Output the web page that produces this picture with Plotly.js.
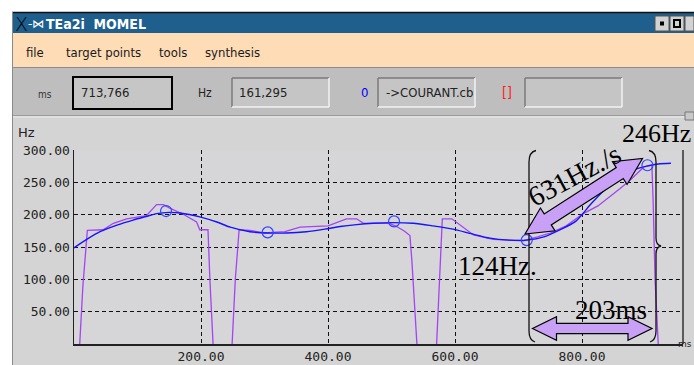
<!DOCTYPE html>
<html><head><meta charset="utf-8">
<script src="https://cdn.plot.ly/plotly-3.0.1.min.js"></script>
<style>html,body{margin:0;padding:0;background:#fff;overflow:hidden}#chart{width:694px;height:365px}</style>
</head><body><div id="chart"></div>
<script>
// ---- data (ms, Hz) ----
const momelX = [0,20,41,70,93,115,130,150,167,198,225,246,277,305,335,366,395,419,445,471,500,534,565,597,625,655,685,713,740,765,790,815,840,865,885,903,920,940];
const momelY = [149,162,174,185,192,198,202,204,203,197,189,181,174,172,172,174,178,182,185,187,188,187,183,178,171,164,161,161,166,177,190,218,243,261,271,276,279,280];
const f0X = [9,14,21,46,62,83,114,130,141,150,172,193,198,211,214,219,null,
             249,254,260,277,300,332,356,400,429,445,456,497,508,520,529,532,540,null,
             571,576,580,595,612,629,660,708,730,750,775,802,825,844,860,876,897,910,912,915,920];
const f0Y = [0,90,176,177,187,194,199,216,216,211,201,189,177,177,100,0,null,
             0,100,177,176,172,174,181,183,194,194,187,187,182,175,168,130,0,null,
             0,100,194,194,182,169,162,160,166,172,183,202,214,228,241,254,274,277,220,100,0];
const targetX = [145,305,504,713,903];
const targetY = [206,173,190,161,277];
const xTickVals = [200,400,600,800];
const xTickText = ['200.00','400.00','600.00','800.00'];
const yTickVals = [50,100,150,200,250,300];
const yTickText = ['50.00','100.00','150.00','200.00','250.00','300.00'];
const menuItems = ['file','target points','tools','synthesis'];
const fieldValues = ['713,766','161,295','->COURANT.cb'];
const noteLabels = ['246Hz','124Hz.','203ms','631Hz./s'];

// ---- pixel helpers for the window decoration ----
const L=74, R=683, T=150, B=344;
const px = x => (x-L)/(R-L);
const py = y => (B-y)/(B-T);
const P = (x,y) => px(x).toFixed(5)+','+py(y).toFixed(5);
function rect(x0,y0,x1,y1,fill,line,lw,layer){
  return {type:'rect',xref:'paper',yref:'paper',x0:px(x0),x1:px(x1),y0:py(y1),y1:py(y0),
    fillcolor:fill,line:{color:line||fill,width:lw||0},layer:layer||'below'};
}
function seg(x0,y0,x1,y1,color,w,layer){
  return {type:'line',xref:'paper',yref:'paper',x0:px(x0),y0:py(y0),x1:px(x1),y1:py(y1),
    line:{color:color,width:w},layer:layer||'below'};
}
function pathShape(d,fill,color,w,layer){
  return {type:'path',xref:'paper',yref:'paper',path:d,fillcolor:fill,line:{color:color,width:w},layer:layer||'above'};
}
function dblArrow(x1,y1,x2,y2,sw,hw,hl){
  const dx=x2-x1, dy=y2-y1, len=Math.hypot(dx,dy), ux=dx/len, uy=dy/len, nx=-uy, ny=ux;
  const pt=(t,s)=>P(x1+ux*t+nx*s, y1+uy*t+ny*s);
  return 'M'+pt(0,0)+' L'+pt(hl,hw)+' L'+pt(hl,sw)+' L'+pt(len-hl,sw)+' L'+pt(len-hl,hw)+
         ' L'+pt(len,0)+' L'+pt(len-hl,-hw)+' L'+pt(len-hl,-sw)+' L'+pt(hl,-sw)+' L'+pt(hl,-hw)+' Z';
}
function bevelBox(x0,y0,x1,y1){
  return [rect(x0,y0,x1,y1,'#c5c5c5'),
    seg(x0,y0,x1,y0,'#7a7a7a',1.5), seg(x0,y0,x0,y1,'#7a7a7a',1.5),
    seg(x0,y1,x1,y1,'#f2f2f2',1.5), seg(x1,y0,x1,y1,'#f2f2f2',1.5)];
}

const shapes = [
  rect(12,12,694,365,'#bebebe'),
  rect(12,12,694,33,'#1e5f8e'),
  seg(12,12.5,694,12.5,'#111',1.5),
  rect(12,33,694,67,'#fedcb6'),
  seg(12,67.5,694,67.5,'#8c8c8c',1.2),
  rect(12,116,694,365,'#d4d4d4'),
  rect(L,T,R,B,'#d6d5d8'),
  seg(12,115.5,694,115.5,'#9a9a9a',1.2),
  seg(12,117,694,117,'#ececec',1),
  seg(12.5,12,12.5,365,'#8a8a8a',1),
  rect(655,16,669,31,'#d2d2d2','#555',1),
  rect(660,21.5,664,25.5,'#000'),
  rect(670,16,684,31,'#d2d2d2','#555',1),
  rect(674,20,680,27,'#d2d2d2','#000',2),
  rect(685,16,694,31,'#d2d2d2','#555',1),
  rect(73,77,172,109,'#c6c6c6','#000',2),
  ...bevelBox(232,78,329,107),
  ...bevelBox(378,78,475,107),
  ...bevelBox(525,78,622,107),
  rect(685,112,694,120,'#c8c8c8','#777',1),
  seg(R,T,R,B,'#333',1.5,'above'),
  // braces
  pathShape('M'+P(536,150.5)+' Q'+P(529,152)+' '+P(529,162)+' L'+P(529,331)+' Q'+P(529,340)+' '+P(535,342),'rgba(0,0,0,0)','#111',1.3),
  pathShape('M'+P(649,150.5)+' Q'+P(656,152)+' '+P(656,162)+' L'+P(656,238)+' Q'+P(656,245)+' '+P(661,246)+' Q'+P(656,247)+' '+P(656,254)+' L'+P(656,331)+' Q'+P(656,340)+' '+P(650,342),'rgba(0,0,0,0)','#111',1.3),
  // arrows
  pathShape(dblArrow(525,234,642.5,158.5,6.5,13.5,27),'#c8a0f6','#000',1.2),
  pathShape(dblArrow(532.5,328.5,652,328.5,5.2,11.7,24),'#c8a0f6','#000',1.2)
];

const narrow = '"Liberation Sans Narrow","DejaVu Sans Condensed","Arial Narrow",sans-serif';
const cond = '"DejaVu Sans Condensed","Liberation Sans Narrow",sans-serif';
const serif = '"Liberation Serif","Times New Roman",serif';
function ann(text,x,y,size,color,family,xanchor,extra){
  return Object.assign({text:text,xref:'paper',yref:'paper',x:px(x),y:py(y),showarrow:false,
    xanchor:xanchor||'left',yanchor:'middle',font:{size:size,color:color,family:family}},extra||{});
}
const menuX = [24,64,157,203];
const annotations = [
  ann('X',13,24,19,'#000','"DejaVu Sans",sans-serif','left',{font:{size:19,color:'#000',family:'"DejaVu Sans",sans-serif',weight:200}}),
  ann('-⋈',26,24,12,'#fff','"DejaVu Sans",sans-serif'),
  ann('<b>TEa2i  MOMEL</b>',44,24,14,'#fff',narrow),
  ...menuItems.map((m,i)=>ann(m,menuX[i],52,13,'#1a1a1a',cond)),
  ann('ms',36,95,10,'#333',cond),
  ann(fieldValues[0],79,93,13,'#222',narrow),
  ann('Hz',196,93,12,'#222',cond),
  ann(fieldValues[1],237,93,13,'#222',narrow),
  ann('0',359,93,13,'#0000ff',narrow),
  ann(fieldValues[2],384,93,13,'#222',narrow),
  ann('[]',500,92,14,'#ff1a1a',narrow),
  ann('Hz',16,132,13,'#222','"DejaVu Sans",sans-serif'),
  ann('ms',694,344,9,'#222','"DejaVu Sans",sans-serif','right'),
  ann(noteLabels[0],620,133,26,'#000',serif),
  ann(noteLabels[1],456,266,27,'#000',serif),
  ann(noteLabels[2],573,310,27,'#000',serif),
  ann(noteLabels[3],574,175,28,'#000',serif,'center',{textangle:-28})
];

const traces = [
  {x:f0X,y:f0Y,mode:'lines',line:{color:'#a444f2',width:1.3},connectgaps:false,hoverinfo:'skip'},
  {x:momelX,y:momelY,mode:'lines',line:{color:'#1414ff',width:1.4,shape:'spline',smoothing:0.7},hoverinfo:'skip'},
  {x:targetX,y:targetY,mode:'markers',marker:{symbol:'circle-open',size:11,color:'#3344ff',line:{width:1.2,color:'#3344ff'}},hoverinfo:'skip'}
];

const layout = {
  width:694,height:365,showlegend:false,
  margin:{l:L,r:694-R,t:T,b:365-B,pad:0},
  paper_bgcolor:'#ffffff',plot_bgcolor:'rgba(0,0,0,0)',
  xaxis:{range:[0,959],tickvals:xTickVals,ticktext:xTickText,showgrid:true,gridcolor:'#111',griddash:'4px,3px',gridwidth:1,
    showline:true,linecolor:'#222',linewidth:1.5,zeroline:false,ticks:'',
    tickfont:{family:'"DejaVu Sans Mono",monospace',size:13,color:'#222'}},
  yaxis:{range:[0,300.6],tickvals:yTickVals,ticktext:yTickText,showgrid:true,gridcolor:'#111',griddash:'4px,3px',gridwidth:1,
    showline:true,linecolor:'#222',linewidth:1.5,zeroline:false,ticks:'',
    tickfont:{family:'"DejaVu Sans Mono",monospace',size:13,color:'#222'}},
  shapes:shapes,annotations:annotations
};
Plotly.newPlot('chart',traces,layout,{displayModeBar:false,staticPlot:true});
</script></body></html>
